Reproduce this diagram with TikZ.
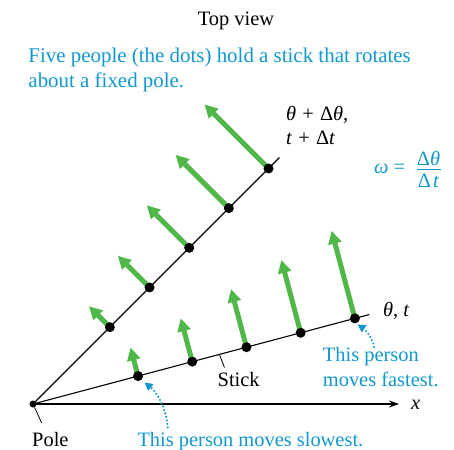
\documentclass[tikz,border=0pt]{standalone}
\usepackage{fontspec}
\setmainfont{Liberation Serif}
\newfontfamily\figfont{Liberation Serif}
\usetikzlibrary{arrows.meta,calc}
\definecolor{capblue}{RGB}{16,152,206}
\definecolor{velgreen}{RGB}{80,184,72}
\pgfdeclarelayer{bg}
\pgfsetlayers{bg,main}
\begin{document}
\begin{tikzpicture}[x=1bp,y=-1bp,
  every node/.style={inner sep=0pt,font=\figfont\fontsize{20.5}{25}\selectfont},
  bigtext/.style={font=\figfont\fontsize{21}{25}\selectfont},
  person/.style={circle,fill=black,minimum size=10bp,inner sep=0pt},
  polept/.style={circle,fill=black,minimum size=7bp,inner sep=0pt},
  vel/.style={velgreen,line width=5bp,-{Triangle[length=13bp,width=13bp]}},
  stickline/.style={line width=1.1bp},
  note/.style={capblue,line width=2.3bp,line cap=round,dash pattern=on 0pt off 3.6bp,-{Triangle[length=8bp,width=8bp]}},
  leader/.style={line width=0.8bp}]
\useasboundingbox (0,0) rectangle (454,450);

% pole
\node[polept] (P) at (33,404) {};
\coordinate (Lend) at ($(P)+(-14.9:348)$);
\coordinate (Uend) at ($(P)+(-45:348.5)$);
\coordinate (xend) at (399,404);

\begin{pgfonlayer}{bg}
  \draw[stickline] (P.center) -- (Lend);
  \draw[stickline] (P.center) -- (Uend);
\end{pgfonlayer}
\draw[stickline,-{Stealth[length=10bp,width=7bp]}] (P.center) -- (xend);

% people and velocity arrows
\foreach \k/\r in {1/108.7,2/164.8,3/220.9,4/277.0,5/333.1}{
  \node[person] (l\k) at ($(P)+(-14.9:\r)$) {};
  \coordinate (lt\k) at ($(l\k)+(-104.9:{0.272*\r})$);
  \node[person] (u\k) at ($(P)+(-45:\r)$) {};
  \coordinate (ut\k) at ($(u\k)+(-135:{0.272*\r})$);
  \begin{pgfonlayer}{bg}
    \draw[vel] (l\k.center) -- (lt\k);
    \draw[vel] (u\k.center) -- (ut\k);
  \end{pgfonlayer}
}

% texts
\node[anchor=base] (title) at (236,26) {Top view};
\node[bigtext,anchor=base west,text=capblue] (cap1) at (28.3,62.7) {Five people (the dots) hold a stick that rotates};
\node[bigtext,anchor=base west,text=capblue] (cap2) at (28.3,87.7) {about a fixed pole.};

\node[anchor=base west] (up1) at (286,121) {\textit{θ}\hspace{0.3em}+\hspace{0.3em}Δ\textit{θ},};
\node[anchor=base west] (up2) at (286,145) {\textit{t}\hspace{0.3em}+\hspace{0.3em}Δ\textit{t}};

\node[anchor=base west,text=capblue] (omega) at (374,174) {\textit{ω}\hspace{0.25em}=};
\node[anchor=base,text=capblue] (num) at (428.5,166) {Δ\textit{θ}};
\node[anchor=base,text=capblue] (den) at (428.5,188) {Δ\hspace{0.1em}\textit{t}};
\coordinate (barL) at (416.5,169.8);
\coordinate (barR) at (440.5,169.8);
\draw[capblue,line width=1.1bp] (barL) -- (barR);

\node[anchor=base west] (lowlab) at (383,316.5) {\textit{θ}, \textit{t}};
\node[anchor=base west] (xlab) at (411,409.5) {\textit{x}};

\node[anchor=base west] (stick) at (217.5,386.5) {Stick};
\coordinate (stickpt) at (219.5,354.8);
\coordinate (sticklead) at (224.5,367.5);
\draw[leader] (stickpt) -- (sticklead);

\node[anchor=base west] (pole) at (32,446) {Pole};
\coordinate (polelead) at (41.7,423);
\draw[leader] (P) -- (polelead);

\node[anchor=base west,text=capblue] (fast1) at (322.7,361.7) {This person};
\node[anchor=base west,text=capblue] (fast2) at (322.7,386.7) {moves fastest.};
\node[anchor=base west,text=capblue] (slow) at (137.3,446) {This person moves slowest.};

\coordinate (fs) at (374,347);
\coordinate (fe) at (357.5,324.5);
\draw[note] (fs) .. controls (373,339) and (366,330) .. (fe);
\coordinate (ss) at (167.7,427.5);
\coordinate (se) at (144.5,382.5);
\draw[note] (ss) .. controls (167,411) and (158,393) .. (se);
\end{tikzpicture}
\end{document}
